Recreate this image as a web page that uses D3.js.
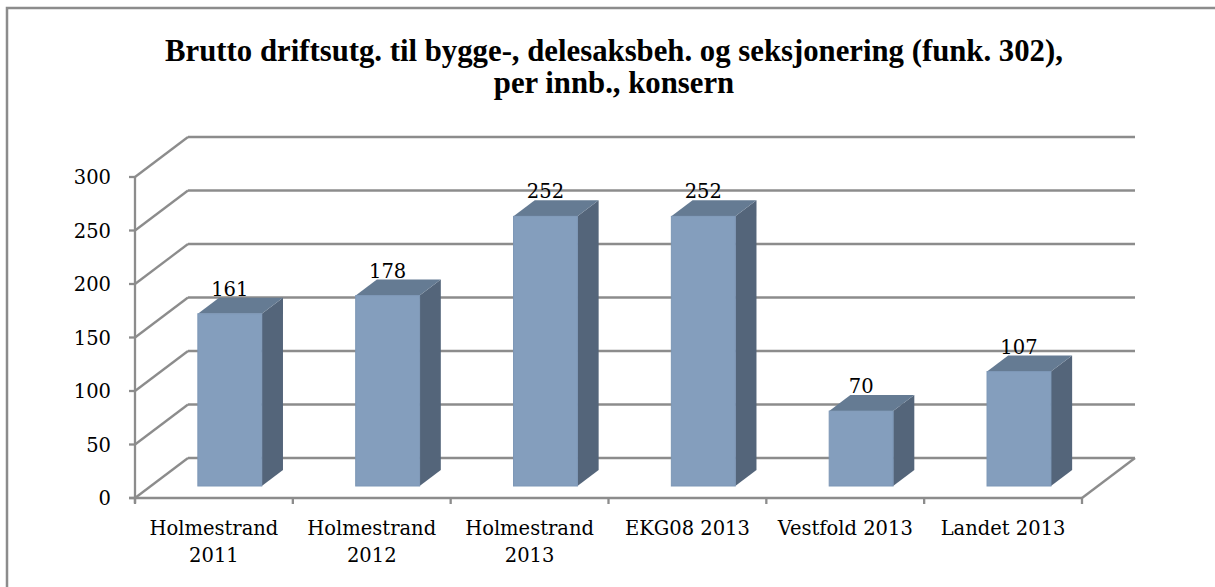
<!DOCTYPE html>
<html>
<head>
<meta charset="utf-8">
<script src="https://cdn.jsdelivr.net/npm/d3@7"></script>
<style>
  html, body { margin: 0; padding: 0; background: #ffffff; }
  svg { display: block; }
</style>
</head>
<body>
<svg id="chart" width="1215" height="587"></svg>
<script>
// ---- data ----
const titleLines = ["Brutto driftsutg. til bygge-, delesaksbeh. og seksjonering (funk. 302),", "per innb., konsern"];
const categories = ["Holmestrand\n2011", "Holmestrand\n2012", "Holmestrand\n2013", "EKG08 2013", "Vestfold 2013", "Landet 2013"];
const values = [161, 178, 252, 252, 70, 107];
const yTicks = [0, 50, 100, 150, 200, 250, 300];

// ---- layout ----
const W = 1215, H = 587;
const svg = d3.select("#chart");
const serif = "'DejaVu Serif', serif";
const gridColor = "#8c8c8c";
const depth = { dx: 53, dy: -40 };   // floor depth vector
const barFront = 0.3, barBack = 0.7; // bar depth fractions

const x = d3.scaleBand().domain(categories).range([135, 1082]).paddingInner(0).paddingOuter(0);
const y = d3.scaleLinear().domain([0, 300]).range([498, 177]);

// border
svg.append("rect").attr("x", 7).attr("y", 8).attr("width", W).attr("height", H)
  .attr("fill", "none").attr("stroke", gridColor).attr("stroke-width", 2.5);

// title
const title = svg.append("g");
titleLines.forEach((t, i) => {
  title.append("text")
    .attr("x", 614).attr("y", 61 + i * 32)
    .attr("text-anchor", "middle")
    .attr("font-family", "'Liberation Serif', serif")
    .attr("font-weight", "bold")
    .attr("font-size", 24)
    .attr("fill", "#000")
    .text(t);
});
// fit the first line to the reference width
(function () {
  const nodes = title.selectAll("text").nodes();
  const w = nodes[0].getComputedTextLength();
  const fs = 24 * 898 / w;
  nodes.forEach(n => n.setAttribute("font-size", fs.toFixed(2)));
})();

const x0 = x.range()[0], x1 = x.range()[1];
const grid = svg.append("g").attr("stroke", gridColor).attr("stroke-width", 2.3).attr("fill", "none");

// back wall gridlines + side wall diagonals
yTicks.forEach(t => {
  const yy = y(t);
  grid.append("line").attr("x1", x0 + depth.dx).attr("x2", x1 + depth.dx)
    .attr("y1", yy + depth.dy).attr("y2", yy + depth.dy);
  grid.append("line").attr("x1", x0).attr("y1", yy)
    .attr("x2", x0 + depth.dx).attr("y2", yy + depth.dy);
});
// floor right edge
grid.append("line").attr("x1", x1).attr("y1", y(0))
  .attr("x2", x1 + depth.dx).attr("y2", y(0) + depth.dy);

// front axes
grid.append("line").attr("x1", x0).attr("x2", x0).attr("y1", y(300)).attr("y2", y(0) + 5);
grid.append("line").attr("x1", x0 - 6).attr("x2", x1).attr("y1", y(0)).attr("y2", y(0));
yTicks.forEach(t => {
  grid.append("line").attr("x1", x0 - 6).attr("x2", x0).attr("y1", y(t)).attr("y2", y(t));
});
categories.forEach((c, i) => {
  const xx = x(c);
  grid.append("line").attr("x1", xx).attr("x2", xx).attr("y1", y(0)).attr("y2", y(0) + 6);
});
grid.append("line").attr("x1", x1).attr("x2", x1).attr("y1", y(0)).attr("y2", y(0) + 6);

// y tick labels
svg.append("g").selectAll("text").data(yTicks).join("text")
  .attr("x", 111).attr("y", d => y(d)).attr("dy", "0.36em")
  .attr("text-anchor", "end")
  .attr("font-family", serif).attr("font-size", 19.5).attr("fill", "#000")
  .text(d => d);

// x labels
const xl = svg.append("g");
categories.forEach(c => {
  const lines = c.split("\n");
  const cx = x(c) + x.bandwidth() / 2;
  lines.forEach((ln, i) => {
    xl.append("text").attr("x", cx).attr("y", 535 + i * 27)
      .attr("text-anchor", "middle")
      .attr("font-family", serif).attr("font-size", 19.5).attr("fill", "#000")
      .text(ln);
  });
});

// bars
const bw = x.bandwidth() * 0.405;
const fdx = depth.dx * barFront, fdy = depth.dy * barFront;
const bdx = depth.dx * (barBack - barFront), bdy = depth.dy * (barBack - barFront);
const bars = svg.append("g");
categories.forEach((c, i) => {
  const v = values[i];
  const cx = x(c) + x.bandwidth() / 2 + fdx;
  const xa = cx - bw / 2, xb = cx + bw / 2;
  const yt = y(v) + fdy, yb = y(0) + fdy;
  const g = bars.append("g");
  g.append("polygon")
    .attr("points", [[xb, yt], [xb + bdx, yt + bdy], [xb + bdx, yb + bdy], [xb, yb]].map(p => p.join(",")).join(" "))
    .attr("fill", "#54657a");
  g.append("polygon")
    .attr("points", [[xa, yt], [xb, yt], [xb + bdx, yt + bdy], [xa + bdx, yt + bdy]].map(p => p.join(",")).join(" "))
    .attr("fill", "#657b93");
  g.append("rect").attr("x", xa).attr("y", yt).attr("width", bw).attr("height", yb - yt)
    .attr("fill", "#849ebd").attr("stroke", "#7d97b6").attr("stroke-width", 1);
  g.append("text").attr("x", cx).attr("y", yt + bdy - 2)
    .attr("text-anchor", "middle")
    .attr("font-family", serif).attr("font-size", 19.5).attr("fill", "#000")
    .text(v);
});
</script>
</body>
</html>
